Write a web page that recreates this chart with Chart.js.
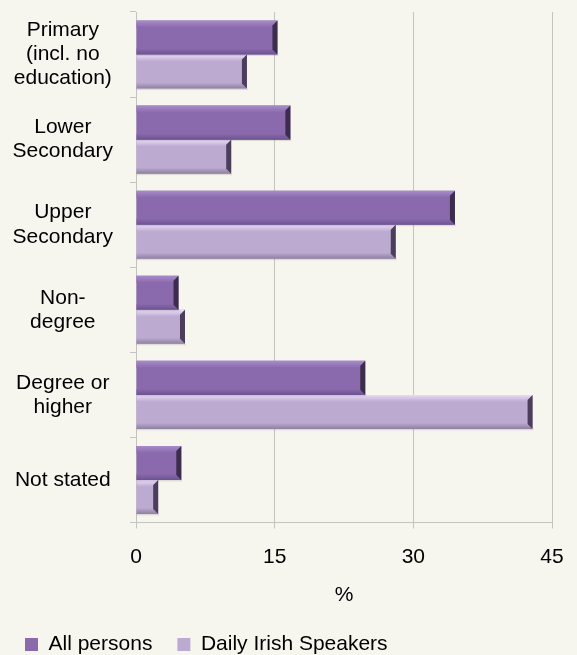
<!DOCTYPE html>
<html>
<head>
<meta charset="utf-8">
<script src="https://cdn.jsdelivr.net/npm/chart.js@4/dist/chart.umd.min.js"></script>
<style>
  html, body { margin: 0; padding: 0; background: #f6f6ef; }
  canvas { display: block; }
</style>
</head>
<body>
<canvas id="c" width="577" height="655"></canvas>
<script>
// ---- data ----
const categories = [
  ["Primary", "(incl. no", "education)"],
  ["Lower", "Secondary"],
  ["Upper", "Secondary"],
  ["Non-", "degree"],
  ["Degree or", "higher"],
  ["Not stated"]
];
const allPersons = [15.3, 16.7, 34.5, 4.6, 24.8, 4.9];
const dailyIrishSpeakers = [12.0, 10.3, 28.1, 5.3, 42.9, 2.4];
const xTickValues = [0, 15, 30, 45];
const seriesNames = ["All persons", "Daily Irish Speakers"];
const xTitle = "%";

// ---- styling ----
const FONT = "'Liberation Sans', Arial, sans-serif";
const BG = "#f6f6ef";
const GRID = "#c3c3c0";
const styles = [
  { fill: "#8a6aad", top: "#a88cc9", bottom: "#6c5390", edge: "#3c2d4d" },
  { fill: "#bcaad1", top: "#eadcf7", bottom: "#8e7fa0", edge: "#4b3e5a" }
];

const bevelPlugin = {
  id: "bevel",
  afterDatasetDraw(chart, args) {
    const ctx = chart.ctx;
    const st = styles[args.index];
    const meta = args.meta;
    ctx.save();
    meta.data.forEach(el => {
      const p = el.getProps(["x", "y", "base", "height"], true);
      const l = Math.min(p.x, p.base), r = Math.max(p.x, p.base);
      const t = p.y - p.height / 2, b = p.y + p.height / 2;
      const bw = 5;
      // shadow
      ctx.fillStyle = "rgba(0,0,0,0.10)";
      ctx.fillRect(l, b, r - l + 1, 1.5);
      // top highlight
      let g = ctx.createLinearGradient(0, t, 0, t + bw + 2);
      g.addColorStop(0, st.top);
      g.addColorStop(1, st.fill);
      ctx.fillStyle = g;
      ctx.beginPath();
      ctx.moveTo(l, t); ctx.lineTo(r, t); ctx.lineTo(r - bw, t + bw + 2); ctx.lineTo(l, t + bw + 2);
      ctx.closePath(); ctx.fill();
      // bottom shade
      g = ctx.createLinearGradient(0, b - bw - 1, 0, b);
      g.addColorStop(0, st.fill);
      g.addColorStop(1, st.bottom);
      ctx.fillStyle = g;
      ctx.beginPath();
      ctx.moveTo(l, b - bw - 1); ctx.lineTo(r - bw, b - bw - 1); ctx.lineTo(r, b); ctx.lineTo(l, b);
      ctx.closePath(); ctx.fill();
      // right edge
      ctx.fillStyle = st.edge;
      ctx.beginPath();
      const ew = Math.min(bw, (r - l) / 2);
      ctx.moveTo(r - ew, t + ew); ctx.lineTo(r, t); ctx.lineTo(r, b); ctx.lineTo(r - ew, b - ew);
      ctx.closePath(); ctx.fill();
    });
    ctx.restore();
  }
};

const bgPlugin = {
  id: "bg",
  beforeDraw(chart) {
    const ctx = chart.ctx;
    ctx.save();
    ctx.fillStyle = BG;
    ctx.fillRect(0, 0, chart.width, chart.height);
    ctx.restore();
  }
};

new Chart(document.getElementById("c"), {
  type: "bar",
  data: {
    labels: categories,
    datasets: [
      { label: seriesNames[0], data: allPersons, backgroundColor: styles[0].fill, borderWidth: 0 },
      { label: seriesNames[1], data: dailyIrishSpeakers, backgroundColor: styles[1].fill, borderWidth: 0 }
    ]
  },
  options: {
    indexAxis: "y",
    responsive: false,
    animation: false,
    devicePixelRatio: 1,
    categoryPercentage: 0.8,
    barPercentage: 1.0,
    layout: { padding: { top: 12, right: 25, bottom: 0, left: 0 } },
    scales: {
      x: {
        min: 0, max: 45,
        afterBuildTicks(scale) { scale.ticks = xTickValues.map(v => ({ value: v })); },
        afterFit(scale) { scale.height = 86.5; scale.paddingLeft = 0; scale.paddingRight = 0; },
        grid: { color: GRID, lineWidth: 1, tickLength: 6 },
        border: { color: GRID, width: 1 },
        ticks: { color: "#000", font: { family: FONT, size: 21 }, padding: 16, maxRotation: 0 },
        title: { display: true, text: xTitle, color: "#000", font: { family: FONT, size: 21 }, padding: { top: 0, bottom: 1 } }
      },
      y: {
        afterFit(scale) { scale.width = 136; scale.paddingTop = 0; scale.paddingBottom = 0; },
        grid: { drawOnChartArea: false, color: GRID, tickLength: 6, offset: true },
        border: { color: GRID, width: 1 },
        ticks: { color: "#000", font: { family: FONT, size: 21, lineHeight: 1.15 }, crossAlign: "center", padding: 17 }
      }
    },
    plugins: {
      legend: {
        position: "bottom",
        align: "start",
        maxHeight: 46,
        labels: { color: "#000", font: { family: FONT, size: 21 }, boxWidth: 13, boxHeight: 13, padding: 25 }
      },
      tooltip: { enabled: false }
    }
  },
  plugins: [bgPlugin, bevelPlugin]
});
</script>
</body>
</html>
